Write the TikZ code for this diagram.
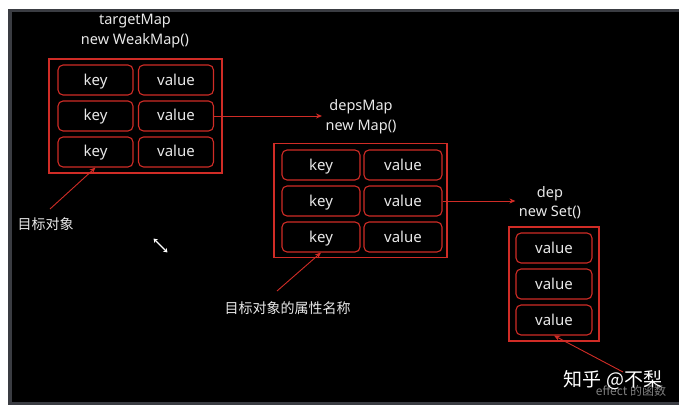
\documentclass[tikz,border=0pt]{standalone}
\usepackage{fontspec}
\setmainfont{Noto Sans}
\newfontfamily\cjk{Noto Sans CJK SC}
\usepackage{xcolor}
\usetikzlibrary{arrows.meta}
\definecolor{boxred}{RGB}{208,44,38}
\definecolor{framegray}{RGB}{58,60,66}
\definecolor{txt}{RGB}{232,232,232}
\tikzset{
  cell/.style={draw=boxred,rounded corners=5pt,line width=1.1pt,minimum width=76pt,minimum height=30pt,text=txt,font=\fontsize{15}{15}\selectfont,inner sep=0pt,text height=10pt,text depth=0pt},
  outer/.style={draw=boxred,line width=1.1pt,minimum width=173pt,minimum height=114pt,inner sep=0pt},
  title/.style={text=txt,font=\fontsize{14.5}{20}\selectfont,align=center},
  note/.style={text=txt,font=\cjk\fontsize{14}{14}\selectfont},
  link/.style={boxred,line width=0.9pt,-{Stealth[length=6pt,width=5pt]}}
}

\begin{document}
\begin{tikzpicture}[x=1pt,y=-1pt]
\useasboundingbox (0,0) rectangle (686,412);
\fill[white] (0,0) rectangle (686,412);
\fill[framegray] (8,9) rectangle (679,405);
\fill[black] (12,12) rectangle (679,402);

% targetMap
\node[title] (ttitle) at (135,31) {targetMap\\new WeakMap()};
\node[outer] (tbox) at (135.5,116) {};
\node[cell,minimum width=75pt] (t1k) at (95.5,80) {key};
\node[cell,minimum width=75pt] (t1v) at (176,80) {value};
\node[cell,minimum width=75pt] (t2k) at (95.5,116) {key};
\node[cell,minimum width=75pt] (t2v) at (176,116) {value};
\node[cell,minimum width=75pt] (t3k) at (95.5,152) {key};
\node[cell,minimum width=75pt] (t3v) at (176,152) {value};

% depsMap
\node[title] (dtitle) at (361,116.5) {depsMap\\new Map()};
\node[outer] (dbox) at (360.5,200.5) {};
\node[cell,minimum width=78pt] (d1k) at (321,165) {key};
\node[cell,minimum width=78pt] (d1v) at (403,165) {value};
\node[cell,minimum width=78pt] (d2k) at (321,201) {key};
\node[cell,minimum width=78pt] (d2v) at (403,201) {value};
\node[cell,minimum width=78pt] (d3k) at (321,237) {key};
\node[cell,minimum width=78pt] (d3v) at (403,237) {value};

% dep
\node[title,font=\fontsize{14.5}{19}\selectfont] (stitle) at (550,202.5) {dep\\new Set()};
\node[outer,minimum width=90pt] (sbox) at (554,284) {};
\node[cell] (s1) at (554,248) {value};
\node[cell] (s2) at (554,284) {value};
\node[cell] (s3) at (554,320) {value};

\draw[link] (t2v.east) -- (dtitle.west|-t2v.east);
\draw[link] (d2v.east) -- (stitle.west|-d2v.east);

% notes
\node[note,anchor=west] (n1) at (14,224) {目标对象};
\node[note] (n2) at (287.5,308) {目标对象的属性名称};
\coordinate (a1) at (50,209);
\coordinate (a2) at (277,291);
\coordinate (a3) at (623,372);
\draw[link] (a1) -- (t3k.south);
\draw[link] (a2) -- (d3k.south);
\draw[link] (a3) -- (s3.south);

\draw[white,line width=1.3pt,{Stealth[length=4pt,width=5pt]}-{Stealth[length=4pt,width=5pt]}] (153.5,238.5) -- (167.5,252.5);

\node[text=gray,font=\cjk\fontsize{12}{12}\selectfont] (sub) at (631,391) {effect 的函数};
\node[text=white,font=\cjk\fontsize{19}{19}\selectfont] (wm) at (613,380) {知乎 @不梨};
\end{tikzpicture}
\end{document}
